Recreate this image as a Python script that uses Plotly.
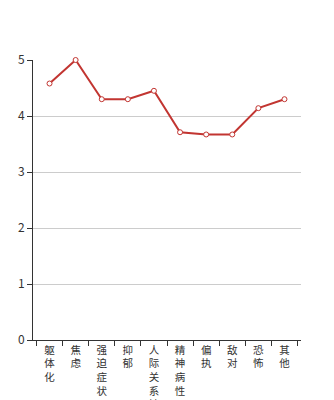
import plotly.graph_objects as go

categories = ["躯体化", "焦虑", "强迫症状", "抑郁", "人际关系敏感", "精神病性", "偏执", "敌对", "恐怖", "其他"]
values = [4.58, 5.0, 4.30, 4.30, 4.45, 3.71, 3.67, 3.67, 4.14, 4.30]
y_ticks = [0, 1, 2, 3, 4, 5]

tick_text = ["<br>".join(list(c)) for c in categories]

fig = go.Figure()
fig.add_trace(go.Scatter(
    x=categories, y=values, mode="lines+markers",
    line=dict(color="#c23531", width=2),
    marker=dict(symbol="circle", size=5, color="white", line=dict(color="#c23531", width=1)),
    cliponaxis=False, showlegend=False,
))
fig.update_layout(
    width=334, height=400,
    margin=dict(l=33, r=33, t=60, b=60, autoexpand=False),
    paper_bgcolor="white", plot_bgcolor="white",
    font=dict(family="Noto Sans CJK SC", size=12, color="#333"),
)
fig.update_xaxes(
    tickmode="array", tickvals=categories, ticktext=tick_text,
    tickson="boundaries", ticks="outside", ticklen=5, tickcolor="#333",
    showline=True, linecolor="#333", linewidth=1, showgrid=False,
    tickangle=0, tickfont=dict(size=10.5, color="#333"), automargin=False,
)
fig.update_yaxes(
    range=[0, 5], tickvals=y_ticks, ticks="outside", ticklen=5, tickcolor="#333",
    showline=True, linecolor="#333", linewidth=1,
    showgrid=True, gridcolor="#ccc", gridwidth=1, zeroline=False,
    tickfont=dict(size=12, color="#333"), automargin=False,
)
fig.write_html("out.html")
